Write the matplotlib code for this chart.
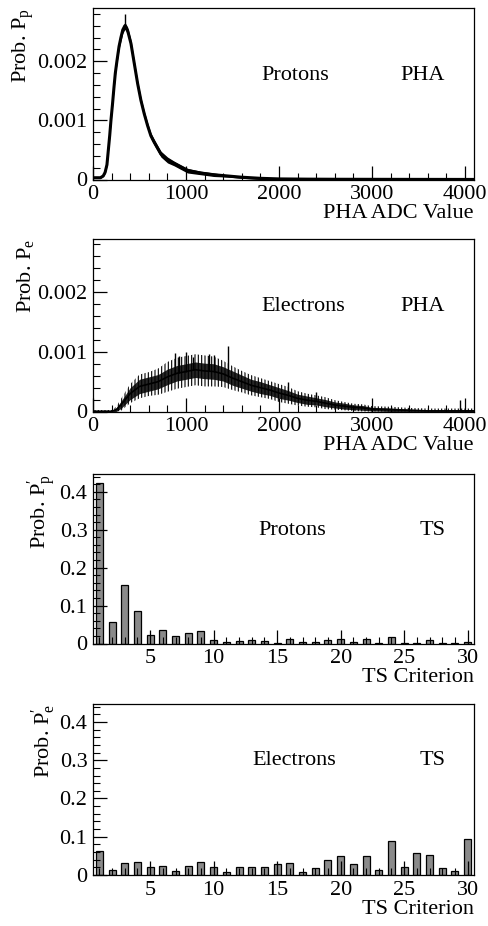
import numpy as np
import matplotlib
matplotlib.use('Agg')
import matplotlib.pyplot as plt
from matplotlib.ticker import MultipleLocator, FixedLocator, FixedFormatter

plt.rcParams['font.family'] = ['Liberation Serif', 'DejaVu Serif']
plt.rcParams['mathtext.fontset'] = 'custom'
plt.rcParams['mathtext.rm'] = 'Liberation Serif'
plt.rcParams['mathtext.it'] = 'Liberation Serif:italic'
plt.rcParams['hatch.linewidth'] = 0.8

# ---- PHA, protons ----
pha_p_adc = [0, 80, 110, 130, 150, 165, 180, 193, 210, 225, 240, 257, 280, 300,
             320, 343, 372, 408, 444, 480, 515, 551, 587, 622, 658, 730, 801,
             873, 944, 1016, 1159, 1302, 1445, 1588, 1800, 2000, 2300, 2600,
             3000, 3500, 4096]
pha_p_val = [0.00003, 0.00003, 0.00006, 0.00012, 0.00025, 0.0005, 0.00075,
             0.001, 0.00128, 0.00155, 0.0018, 0.002, 0.00225, 0.0024, 0.00253,
             0.0026, 0.00252, 0.0023, 0.00196, 0.00162, 0.00134, 0.00111,
             0.00091, 0.00074, 0.00063, 0.00043, 0.00033, 0.00027, 0.00021,
             0.00015, 0.00011, 0.00008, 0.00006, 0.00004, 0.00002, 0.00001,
             0.000006, 0.000004, 0.000003, 0.000002, 0.000001]
pha_p_err = [0.00001, 0.00001, 0.00001, 0.00002, 0.00003, 0.00004, 0.00004,
             0.00005, 0.00005, 0.00005, 0.00005, 0.00005, 0.00005, 0.00006,
             0.00006, 0.00006, 0.00006, 0.00006, 0.00005, 0.00005, 0.00005,
             0.00005, 0.00005, 0.00005, 0.00005, 0.00005, 0.00005, 0.00004,
             0.00004, 0.00004, 0.00003, 0.00003, 0.00002, 0.00002, 0.00002,
             0.00001, 0.00001, 0.00001, 0.00001, 0.00001, 0.00001]
p_spike_adc = [343]
p_spike_top = [0.0028]

# ---- PHA, electrons ----
pha_e_adc = [0, 200, 250, 300, 400, 500, 600, 700, 800, 900, 1000, 1100, 1200,
             1300, 1400, 1500, 1600, 1700, 1800, 1900, 2000, 2100, 2200, 2300,
             2400, 2500, 2600, 2700, 2800, 2900, 3000, 3200, 3400, 3600, 4096]
pha_e_val = [0.000005, 0.000005, 0.00003, 0.00011, 0.0003, 0.00042, 0.00046,
             0.0005, 0.00058, 0.00064, 0.00067, 0.0007, 0.00068, 0.00067,
             0.00063, 0.00056, 0.0005, 0.00044, 0.0004, 0.00036, 0.00031,
             0.00027, 0.00022, 0.00019, 0.00017, 0.00014, 0.00011, 0.00009,
             0.00007, 0.00006, 0.00004, 0.00003, 0.00002, 0.00001, 0.00001]
pha_e_in = [0.00001, 0.00001, 0.00003, 0.00006, 0.0001, 0.00012, 0.00012,
            0.00012, 0.00013, 0.00013, 0.00013, 0.00013, 0.00013, 0.00013,
            0.00012, 0.00012, 0.00011, 0.0001, 0.0001, 0.00009, 0.00009,
            0.00008, 0.00007, 0.00007, 0.00006, 0.00006, 0.00005, 0.00005,
            0.00004, 0.00004, 0.00003, 0.00003, 0.00002, 0.00002, 0.00002]
pha_e_out = [0.00002, 0.00002, 0.00005, 0.0001, 0.00016, 0.0002, 0.0002,
             0.00022, 0.00025, 0.00026, 0.00026, 0.00026, 0.00026, 0.00025,
             0.00022, 0.0002, 0.00018, 0.00017, 0.00016, 0.00015, 0.00015,
             0.00014, 0.00012, 0.00011, 0.0001, 0.0001, 0.00008, 0.00007,
             0.00006, 0.00006, 0.00005, 0.00005, 0.00004, 0.00004, 0.00004]
e_spike_adc = [880, 920, 1000, 1080, 1250, 1300, 1450, 2100, 2400, 3950]
e_spike_top = [0.00098, 0.00093, 0.001, 0.00092, 0.00097, 0.00094, 0.0011,
               0.0005, 0.00032, 0.0002]

# ---- TS criterion bins ----
ts_bins = list(range(1, 31))
ts_prot = [0.422, 0.057, 0.155, 0.085, 0.022, 0.035, 0.020, 0.028, 0.034, 0.010,
           0.003, 0.006, 0.010, 0.006, 0.001, 0.013, 0.003, 0.003, 0.010, 0.013,
           0.003, 0.013, 0.001, 0.017, 0.001, 0.002, 0.010, 0.002, 0.001, 0.004]
ts_elec = [0.063, 0.012, 0.031, 0.033, 0.020, 0.024, 0.010, 0.024, 0.034, 0.022,
           0.009, 0.022, 0.020, 0.020, 0.028, 0.032, 0.009, 0.017, 0.040, 0.050,
           0.028, 0.049, 0.012, 0.089, 0.020, 0.057, 0.053, 0.017, 0.011, 0.094]

pha_yticks = [0, 0.001, 0.002]
pha_ylabels = ['0', '0.001', '0.002']
pha_xticks = [0, 1000, 2000, 3000, 4000]
ts_yticks = [0, 0.1, 0.2, 0.3, 0.4]
ts_ylabels = ['0', '0.1', '0.2', '0.3', '0.4']
ts_xticks = [5, 10, 15, 20, 25, 30]

FS = 16
W, H = 488, 926
fig = plt.figure(figsize=(W / 100, H / 100), dpi=100)


def make_ax(top_px, bot_px):
    ax = fig.add_axes([93 / W, 1 - bot_px / H, 381 / W, (bot_px - top_px) / H])
    for s in ax.spines.values():
        s.set_linewidth(0.9)
    ax.tick_params(which='both', direction='in', top=False, right=False,
                   labelsize=FS, pad=4)
    ax.tick_params(which='major', length=10, width=0.9)
    ax.tick_params(which='minor', length=4.8, width=0.8)
    return ax


def style_pha(ax, ylab):
    ax.set_xlim(0, 4096)
    ax.set_ylim(0, 0.0029)
    ax.xaxis.set_major_locator(FixedLocator(pha_xticks))
    ax.xaxis.set_minor_locator(MultipleLocator(200))
    ax.yaxis.set_major_locator(FixedLocator(pha_yticks))
    ax.yaxis.set_major_formatter(FixedFormatter(pha_ylabels))
    ax.yaxis.set_minor_locator(MultipleLocator(0.0002))
    ax.set_xlabel('PHA ADC Value', fontsize=FS, loc='right', labelpad=0)
    ax.set_ylabel(ylab, fontsize=FS, loc='top', labelpad=1)


def style_ts(ax, ylab):
    ax.set_xlim(0.5, 30.5)
    ax.set_ylim(0, 0.447)
    ax.xaxis.set_major_locator(FixedLocator(ts_xticks))
    ax.xaxis.set_minor_locator(MultipleLocator(1))
    ax.yaxis.set_major_locator(FixedLocator(ts_yticks))
    ax.yaxis.set_major_formatter(FixedFormatter(ts_ylabels))
    ax.yaxis.set_minor_locator(MultipleLocator(0.02))
    ax.set_xlabel('TS Criterion', fontsize=FS, loc='right', labelpad=0)
    ax.set_ylabel(ylab, fontsize=FS, loc='top', labelpad=1)


# (1) protons PHA
ax = make_ax(8, 179.5)
x = np.array(pha_p_adc); y = np.array(pha_p_val); e = np.array(pha_p_err)
ax.fill_between(x, np.clip(y - e, 0, None), y + e, color='black', lw=0)
ax.plot(x, y, color='black', lw=2.2)
ax.vlines(p_spike_adc, pha_p_val[pha_p_adc.index(343)], p_spike_top,
          color='black', lw=1)
style_pha(ax, r'Prob. P$_{\mathrm{p}}$')
ax.text(0.441, 0.609, 'Protons', transform=ax.transAxes, fontsize=FS,
        ha='left', va='center')
ax.text(0.806, 0.609, 'PHA', transform=ax.transAxes, fontsize=FS,
        ha='left', va='center')

# (2) electrons PHA
ax = make_ax(238.5, 411.5)
x = np.array(pha_e_adc); y = np.array(pha_e_val)
ei = np.array(pha_e_in); eo = np.array(pha_e_out)
ax.fill_between(x, np.clip(y - eo, 0, None), y + eo, facecolor='none',
                edgecolor='black', hatch='|||||', lw=0)
ax.fill_between(x, np.clip(y - ei, 0, None), y + ei, color='black', lw=0,
                alpha=0.85)
ax.plot(x, y, color='black', lw=1.2)
ax.vlines(e_spike_adc, np.interp(e_spike_adc, x, y), e_spike_top,
          color='black', lw=1)
style_pha(ax, r'Prob. P$_{\mathrm{e}}$')
ax.text(0.441, 0.606, 'Electrons', transform=ax.transAxes, fontsize=FS,
        ha='left', va='center')
ax.text(0.806, 0.606, 'PHA', transform=ax.transAxes, fontsize=FS,
        ha='left', va='center')

# (3) protons TS
ax = make_ax(474, 643.5)
ax.bar(ts_bins, ts_prot, width=0.55, color='#8a8a8a', edgecolor='black',
       lw=0.9, zorder=1)
style_ts(ax, r"Prob. P$_{\mathrm{p}}^{\prime}$")
ax.text(0.435, 0.664, 'Protons', transform=ax.transAxes, fontsize=FS,
        ha='left', va='center')
ax.text(0.856, 0.664, 'TS', transform=ax.transAxes, fontsize=FS,
        ha='left', va='center')

# (4) electrons TS
ax = make_ax(704, 875)
ax.bar(ts_bins, ts_elec, width=0.55, color='#8a8a8a', edgecolor='black',
       lw=0.9, zorder=1)
style_ts(ax, r"Prob. P$_{\mathrm{e}}^{\prime}$")
ax.text(0.417, 0.667, 'Electrons', transform=ax.transAxes, fontsize=FS,
        ha='left', va='center')
ax.text(0.856, 0.667, 'TS', transform=ax.transAxes, fontsize=FS,
        ha='left', va='center')

fig.savefig('out.png', dpi=100)
